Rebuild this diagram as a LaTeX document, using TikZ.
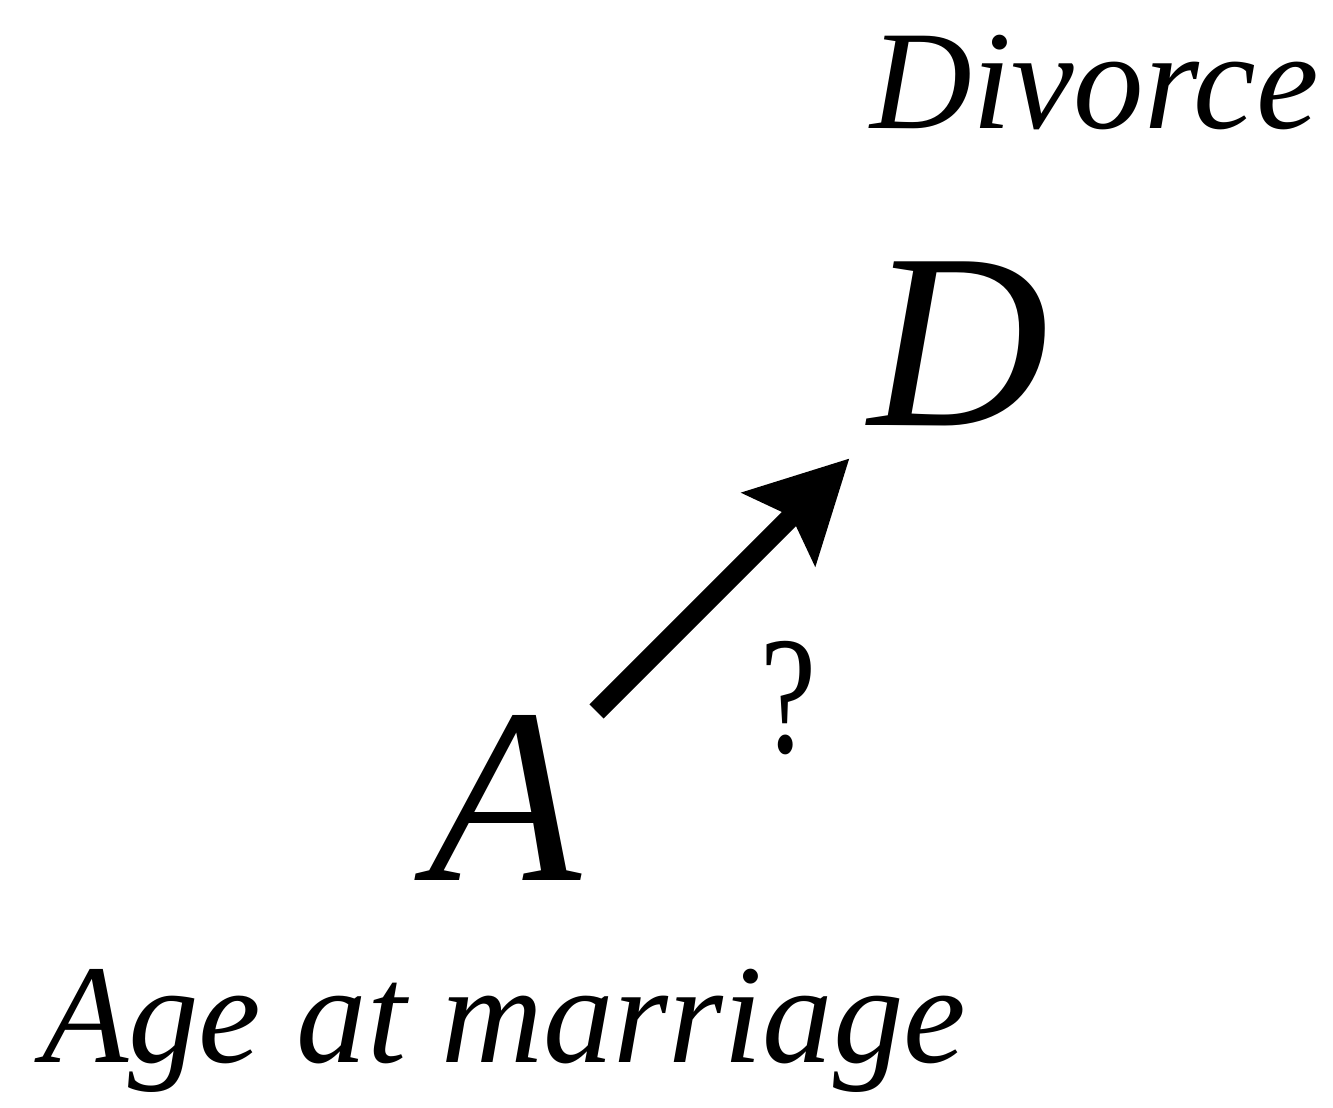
\documentclass[tikz,border=0pt]{standalone}
\usepackage{fontspec}
\setmainfont{Liberation Serif}
\usetikzlibrary{arrows.meta}
\begin{document}
\begin{tikzpicture}[x=1pt,y=-1pt,
  lbl/.style={font=\fontsize{141}{150}\selectfont\itshape, inner sep=0pt, anchor=base west},
  var/.style={font=\fontsize{250}{250}\selectfont\itshape, inner sep=0pt, anchor=base west},
  arr/.style={line width=20pt, -{Stealth[length=99pt,width=101pt,inset=17pt]}}]
\useasboundingbox (0,0) rectangle (1333,1108);
\node[lbl] (divorce) at (870,128) {Divorce};
\node[var] (D) at (868,425) {D};
\node[var] (A) at (428,880) {A};
\node[lbl] (age) at (42,1062) {Age at marriage};
\node[font=\fontsize{168}{170}\selectfont, inner sep=0pt, anchor=base west, xscale=0.75] (q) at (760,752) {?};
\draw[arr] ([shift={(92,-86)}]A.center) -- ([shift={(-109,115)}]D.center);
\end{tikzpicture}
\end{document}
